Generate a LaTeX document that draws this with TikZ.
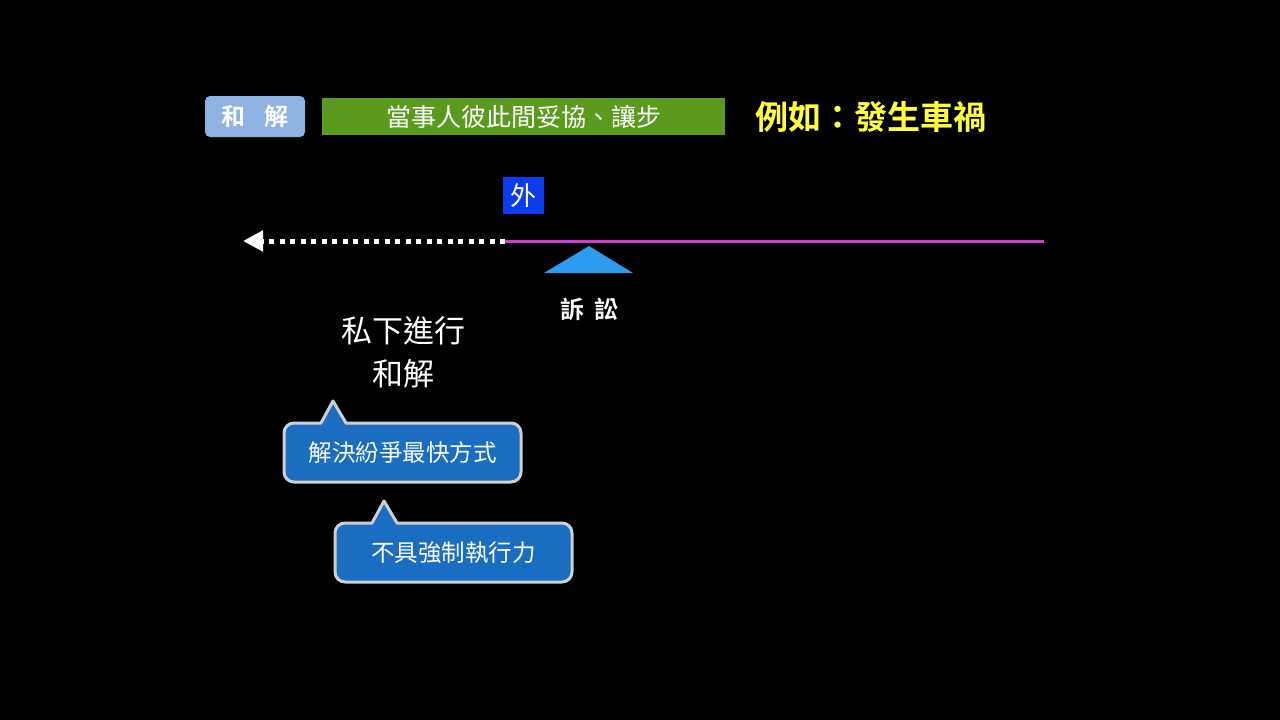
\documentclass[tikz,border=0pt]{standalone}
\usepackage{fontspec}
\setmainfont{Noto Sans CJK TC}
\newfontfamily\cjkb{Noto Sans CJK TC Bold}
\usetikzlibrary{arrows.meta}
\definecolor{hjblue}{HTML}{8DB3E2}
\definecolor{hjgreen}{HTML}{5A9A1E}
\definecolor{hjyellow}{HTML}{FFFF3C}
\definecolor{waiblue}{HTML}{0C3CEB}
\definecolor{linemag}{HTML}{CC3FCC}
\definecolor{triblue}{HTML}{2B9CF0}
\definecolor{callfill}{HTML}{1B6DC1}
\definecolor{callline}{HTML}{CFCFCF}
\tikzset{
  callout/.style={draw=callline, line width=3pt, fill=callfill, rounded corners=10pt,
    minimum width=237pt, minimum height=59pt, inner sep=0pt, text=white,
    font=\fontsize{23.5}{28}\selectfont},
  whitetext/.style={text=white, inner sep=0pt, align=center}
}
\begin{document}
\begin{tikzpicture}[x=1pt,y=-1pt]
\fill[black] (0,0) rectangle (1280,720);
\useasboundingbox (0,0) rectangle (1280,720);
% header
\node[fill=hjblue, rounded corners=5pt, minimum width=100pt, minimum height=41pt, inner sep=0pt,
  text=white, font=\cjkb\fontsize{24}{28}\selectfont] (hejie) at (255,116.5) {和\hspace{19pt}解};
\node[fill=hjgreen, minimum width=403pt, minimum height=37pt, inner sep=0pt,
  text=white, font=\fontsize{25}{30}\selectfont] (def) at (523.5,116.5) {當事人彼此間妥協、讓步};
\node[text=hjyellow, inner sep=0pt, font=\cjkb\fontsize{33}{38}\selectfont] (ex) at (871,117) {例如：發生車禍};
% timeline
\node[fill=waiblue, minimum width=41pt, minimum height=37pt, inner sep=0pt,
  text=white, font=\fontsize{26}{30}\selectfont] (wai) at (523.5,195.5) {外};
\coordinate (split) at (505,241);
\coordinate (rightend) at (1044,241);
\coordinate (leftend) at (243,241);
\draw[linemag, line width=3pt] (split) -- (rightend);
\draw[white, line width=5pt, dash pattern=on 5pt off 5.5pt, -{Triangle[length=20pt,width=20pt]}] (split) -- (leftend);
\fill[triblue] (544,273) -- (589,246) -- (633,273) -- cycle;
\node[whitetext, font=\cjkb\fontsize{24}{28}\selectfont] (susong) at (589.5,309) {訴\hspace{10pt}訟};
\node[whitetext, font=\fontsize{31}{43}\selectfont] (private) at (403,352) {私下進行\\和解};
% callouts
\node[callout] (c1) at (402.5,452.5) {解決紛爭最快方式};
\fill[callfill] (321,426) -- (333,401) -- (346,426) -- cycle;
\draw[callline, line width=3pt, line join=round] (321,423) -- (333,401) -- (346,423);
\node[callout] (c2) at (453.5,552.5) {不具強制執行力};
\fill[callfill] (372,526) -- (384,501) -- (397,526) -- cycle;
\draw[callline, line width=3pt, line join=round] (372,523) -- (384,501) -- (397,523);
\end{tikzpicture}
\end{document}
